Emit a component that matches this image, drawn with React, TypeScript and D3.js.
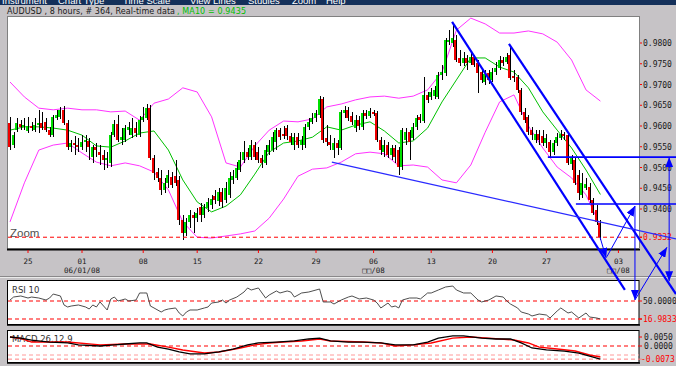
import * as d3 from "d3";

// 8-hour AUDUSD candles, one entry per bar
const opens = [
  0.9607, 0.9554, 0.959, 0.9605, 0.9598, 0.9588, 0.96, 0.959, 0.9602, 0.9607,
  0.961, 0.959, 0.9578, 0.9619, 0.9622, 0.9639, 0.9607, 0.9549, 0.9559, 0.9554,
  0.9549, 0.9561, 0.9564, 0.9525, 0.9549, 0.9537, 0.953, 0.9518, 0.9511, 0.9578,
  0.9605, 0.9566, 0.9566, 0.959, 0.9578, 0.9595, 0.9578, 0.9614, 0.9619, 0.9643,
  0.9523, 0.9489, 0.9475, 0.9446, 0.9463, 0.9477, 0.9479, 0.947, 0.9373, 0.9342,
  0.9369, 0.9385, 0.9378, 0.9405, 0.9385, 0.9402, 0.941, 0.9431, 0.9419, 0.9441,
  0.9422, 0.9434, 0.947, 0.9475, 0.9494, 0.9518, 0.9537, 0.9525, 0.9554, 0.9537,
  0.9523, 0.9511, 0.9537, 0.9542, 0.9561, 0.959, 0.9581, 0.9595, 0.9576, 0.9554,
  0.9573, 0.9554, 0.9554, 0.9598, 0.961, 0.9619, 0.9626, 0.9665, 0.9571, 0.9561,
  0.9542, 0.9559, 0.9547, 0.9631, 0.9639, 0.9624, 0.9595, 0.9614, 0.9598, 0.9631,
  0.9624, 0.9634, 0.9631, 0.9566, 0.9537, 0.9554, 0.953, 0.9547, 0.9542, 0.9501,
  0.9566, 0.9585, 0.9571, 0.9598, 0.9622, 0.9612, 0.9675, 0.967, 0.9672, 0.967,
  0.9723, 0.9728, 0.9802, 0.98, 0.9807, 0.9764, 0.9752, 0.9764, 0.9752, 0.9766,
  0.9752, 0.973, 0.9706, 0.9728, 0.9711, 0.973, 0.974, 0.9759, 0.9754, 0.9771,
  0.972, 0.9718, 0.9687, 0.9634, 0.9622, 0.959, 0.9566, 0.9581, 0.9576, 0.9559,
  0.9561, 0.9537, 0.9559, 0.9571, 0.9581, 0.9578, 0.9508, 0.9518, 0.9482, 0.9434,
  0.9451, 0.9453, 0.9422, 0.9398, 0.9366,
];
const highs = [
  0.9622, 0.9585, 0.9619, 0.9614, 0.9619, 0.9622, 0.961, 0.9619, 0.9639, 0.9634,
  0.9619, 0.9598, 0.9626, 0.9639, 0.9646, 0.9648, 0.9614, 0.9566, 0.9576, 0.9571,
  0.9578, 0.9578, 0.9571, 0.9554, 0.9559, 0.9554, 0.9542, 0.9537, 0.9585, 0.9614,
  0.9626, 0.9595, 0.9602, 0.961, 0.9619, 0.961, 0.9624, 0.9646, 0.9653, 0.9651,
  0.953, 0.9499, 0.9494, 0.9475, 0.9494, 0.9489, 0.9518, 0.9479, 0.9385, 0.9378,
  0.9398, 0.9393, 0.9402, 0.9414, 0.9412, 0.9426, 0.9434, 0.9446, 0.9451, 0.9451,
  0.9465, 0.9489, 0.9494, 0.9513, 0.9537, 0.9564, 0.9547, 0.9566, 0.9561, 0.9549,
  0.953, 0.9554, 0.9566, 0.9585, 0.9595, 0.9595, 0.96, 0.9602, 0.9583, 0.9583,
  0.9583, 0.9576, 0.9605, 0.9619, 0.9631, 0.9639, 0.9672, 0.967, 0.9602, 0.9578,
  0.9571, 0.9566, 0.9639, 0.9648, 0.9646, 0.9634, 0.9626, 0.9624, 0.9639, 0.9639,
  0.9643, 0.9639, 0.9636, 0.9573, 0.9566, 0.9561, 0.9554, 0.9554, 0.9549, 0.9595,
  0.9595, 0.959, 0.9607, 0.9626, 0.9629, 0.9718, 0.9682, 0.9692, 0.9696, 0.973,
  0.9747, 0.9812, 0.9831, 0.9843, 0.9819, 0.9783, 0.9778, 0.9771, 0.9778, 0.9771,
  0.9759, 0.9735, 0.9735, 0.9735, 0.974, 0.9754, 0.9769, 0.9766, 0.9776, 0.9793,
  0.9735, 0.9723, 0.9692, 0.9643, 0.9626, 0.9598, 0.959, 0.959, 0.959, 0.9581,
  0.9566, 0.9566, 0.9583, 0.959, 0.9585, 0.9585, 0.953, 0.9523, 0.9494, 0.9487,
  0.9475, 0.9463, 0.9426, 0.941, 0.9373,
];
const lows = [
  0.9542, 0.9547, 0.9585, 0.959, 0.959, 0.9583, 0.9588, 0.9585, 0.9583, 0.959,
  0.9585, 0.9573, 0.9573, 0.9614, 0.9617, 0.9602, 0.9542, 0.9537, 0.953, 0.9537,
  0.9542, 0.9537, 0.9518, 0.9511, 0.9525, 0.9506, 0.9494, 0.9499, 0.9501, 0.9573,
  0.9561, 0.9554, 0.9561, 0.9578, 0.9571, 0.9573, 0.9573, 0.961, 0.9614, 0.9518,
  0.947, 0.9465, 0.9434, 0.9439, 0.9451, 0.9451, 0.9455, 0.9361, 0.9325, 0.9335,
  0.9354, 0.9342, 0.9369, 0.9369, 0.9378, 0.9393, 0.94, 0.9412, 0.9407, 0.9402,
  0.9414, 0.9426, 0.946, 0.947, 0.9489, 0.9511, 0.9518, 0.9518, 0.9518, 0.9511,
  0.9499, 0.9506, 0.953, 0.9537, 0.9542, 0.9566, 0.9569, 0.9566, 0.9554, 0.9542,
  0.9547, 0.9542, 0.9547, 0.959, 0.9605, 0.961, 0.9619, 0.9559, 0.9552, 0.9542,
  0.9523, 0.953, 0.9542, 0.9619, 0.9612, 0.9602, 0.9585, 0.959, 0.959, 0.9617,
  0.9619, 0.9624, 0.9561, 0.953, 0.9525, 0.9523, 0.9518, 0.9511, 0.9482, 0.9494,
  0.9554, 0.9518, 0.9566, 0.959, 0.9607, 0.9607, 0.9655, 0.9663, 0.9665, 0.9665,
  0.9711, 0.972, 0.9795, 0.979, 0.9754, 0.9745, 0.9745, 0.9735, 0.9747, 0.9742,
  0.9679, 0.9704, 0.9699, 0.9701, 0.9706, 0.9723, 0.9735, 0.9745, 0.9749, 0.9711,
  0.9706, 0.9679, 0.9626, 0.9607, 0.9578, 0.9566, 0.9559, 0.9554, 0.9552, 0.9547,
  0.9525, 0.953, 0.9552, 0.9566, 0.9566, 0.9506, 0.9494, 0.9458, 0.9422, 0.9426,
  0.9446, 0.9414, 0.9385, 0.9361, 0.9325,
];
const closes = [
  0.9549, 0.9578, 0.9607, 0.9598, 0.9602, 0.96, 0.9595, 0.9602, 0.9607, 0.9595,
  0.959, 0.9578, 0.9622, 0.9626, 0.9639, 0.9607, 0.9549, 0.9559, 0.9554, 0.9549,
  0.9561, 0.9566, 0.9549, 0.9549, 0.9542, 0.953, 0.9518, 0.9523, 0.9578, 0.9605,
  0.9566, 0.9573, 0.9595, 0.9598, 0.9595, 0.9583, 0.9614, 0.9622, 0.9643, 0.9523,
  0.9487, 0.9475, 0.9446, 0.9463, 0.9482, 0.9458, 0.9463, 0.9373, 0.9342, 0.9369,
  0.9385, 0.9378, 0.939, 0.9385, 0.9405, 0.9417, 0.9424, 0.9422, 0.9441, 0.9417,
  0.9451, 0.9475, 0.9479, 0.9499, 0.9518, 0.9537, 0.9525, 0.9554, 0.9525, 0.9518,
  0.9511, 0.9542, 0.9554, 0.9573, 0.959, 0.9573, 0.9576, 0.9576, 0.9561, 0.9573,
  0.9554, 0.9566, 0.9598, 0.961, 0.9619, 0.9631, 0.9665, 0.9566, 0.9561, 0.9554,
  0.9559, 0.9547, 0.9634, 0.9639, 0.9619, 0.961, 0.9614, 0.96, 0.9631, 0.9624,
  0.9636, 0.9629, 0.9566, 0.9542, 0.9554, 0.953, 0.9547, 0.9525, 0.9501, 0.959,
  0.9585, 0.9561, 0.9598, 0.9619, 0.9614, 0.9675, 0.9663, 0.9682, 0.9687, 0.9723,
  0.973, 0.9807, 0.9807, 0.9812, 0.9759, 0.9752, 0.9764, 0.9752, 0.9766, 0.9747,
  0.9728, 0.9711, 0.9725, 0.9711, 0.973, 0.974, 0.9759, 0.9752, 0.9766, 0.9716,
  0.9716, 0.9687, 0.9634, 0.9614, 0.9585, 0.9578, 0.9581, 0.9566, 0.9559, 0.9571,
  0.9537, 0.9559, 0.9573, 0.9581, 0.9576, 0.9511, 0.9523, 0.9463, 0.9439, 0.9463,
  0.946, 0.9422, 0.939, 0.9369, 0.9332,
];

// Bollinger bands and MA10, read every 4th bar
const bandIdx = [
  0, 4, 8, 12, 16, 20, 24, 28, 32, 36, 40, 44, 48, 52, 56, 60, 64, 68, 72, 76, 80,
  84, 88, 92, 96, 100, 104, 108, 112, 116, 120, 124, 128, 132, 136, 140, 144, 148,
  152, 156, 160, 164,
];
const upperBand = [
  0.9706, 0.967, 0.9643, 0.9639, 0.9643, 0.9639, 0.9639, 0.9634, 0.9636, 0.9614,
  0.9655, 0.9665, 0.9692, 0.9682, 0.9622, 0.9511, 0.9501, 0.9552, 0.959, 0.9612,
  0.961, 0.9617, 0.9646, 0.9653, 0.9663, 0.967, 0.9672, 0.9667, 0.9672, 0.9687,
  0.973, 0.9831, 0.986, 0.9846, 0.9824, 0.9824, 0.9829, 0.9822, 0.9802, 0.9759,
  0.9687, 0.966,
];
const lowerBand = [
  0.9369, 0.9463, 0.9542, 0.9554, 0.9559, 0.9535, 0.9513, 0.9504, 0.9511, 0.9504,
  0.9489, 0.9446, 0.9369, 0.9332, 0.933, 0.9335, 0.934, 0.9347, 0.9378, 0.9424,
  0.9479, 0.9496, 0.9499, 0.9513, 0.9533, 0.9537, 0.9533, 0.9504, 0.9506, 0.9501,
  0.947, 0.9463, 0.9506, 0.9585, 0.9658, 0.9675, 0.96, 0.9547, 0.9501, 0.9475,
  0.9434, 0.9359,
];
const ma10 = [
  0.959, 0.9598, 0.9598, 0.9595, 0.959, 0.9578, 0.9552, 0.9549, 0.9564, 0.9583,
  0.9588, 0.9542, 0.947, 0.9417, 0.9393, 0.9407, 0.9434, 0.9484, 0.9537, 0.9559,
  0.9564, 0.9573, 0.9598, 0.959, 0.9602, 0.961, 0.9588, 0.9559, 0.9564, 0.9595,
  0.9658, 0.9711, 0.9764, 0.9764, 0.9742, 0.973, 0.9692, 0.9634, 0.959, 0.9547,
  0.9494, 0.9435,
];

// RSI 10
const rsiIdx = [
  0, 1, 3, 5, 6, 8, 10, 11, 12, 14, 15, 16, 17, 19, 21, 22, 23, 24, 25, 26, 27, 28,
  29, 30, 31, 32, 33, 35, 36, 37, 38, 39, 40, 42, 43, 44, 46, 47, 48, 49, 50, 52,
  54, 55, 56, 58, 59, 60, 61, 63, 65, 66, 67, 69, 71, 72, 74, 75, 77, 78, 79, 80,
  81, 83, 86, 87, 89, 90, 92, 94, 95, 97, 99, 101, 102, 103, 105, 106, 107, 108,
  109, 111, 113, 114, 116, 117, 119, 121, 123, 124, 126, 128, 130, 131, 133, 135,
  137, 138, 139, 141, 142, 144, 145, 147, 149, 150, 152, 153, 155, 156, 158, 160,
  161, 163, 164,
];
const rsiVals = [
  51.8, 57.3, 59.2, 55.5, 57.3, 55.5, 51.8, 55.5, 62.8, 59.2, 42.7, 39.0, 40.8,
  42.7, 39.0, 35.3, 42.7, 39.0, 48.2, 40.8, 33.5, 53.7, 57.3, 50.0, 51.8, 53.7,
  50.0, 51.8, 64.7, 64.7, 64.7, 40.8, 37.2, 29.8, 33.5, 35.3, 37.2, 28.0, 22.5,
  29.8, 33.5, 33.5, 37.2, 39.0, 46.3, 48.2, 51.8, 46.3, 51.8, 57.3, 66.5, 73.9,
  70.2, 73.9, 55.5, 61.0, 68.4, 64.7, 68.4, 66.5, 57.3, 61.0, 64.7, 66.5, 72.0,
  48.2, 48.2, 44.5, 51.8, 57.3, 59.2, 53.7, 55.5, 51.8, 46.3, 37.2, 46.3, 39.0,
  40.8, 37.2, 51.8, 55.5, 55.5, 53.7, 64.7, 64.7, 70.2, 75.7, 77.5, 70.2, 64.7,
  64.7, 51.8, 48.2, 51.8, 59.2, 57.3, 50.0, 44.5, 37.2, 29.8, 26.1, 22.5, 26.1,
  24.3, 18.8, 31.7, 37.2, 28.0, 29.8, 18.8, 28.0, 20.6, 18.8, 16.98,
];

// MACD 26,12,9
const macdIdx = [
  0, 3, 6, 11, 16, 19, 25, 29, 32, 36, 38, 41, 44, 47, 50, 54, 58, 62, 66, 69, 74,
  79, 83, 86, 89, 94, 98, 103, 107, 112, 116, 119, 123, 126, 131, 135, 139, 142,
  145, 149, 154, 158, 163, 164,
];
const macdVals = [
  0.005, 0.0044, 0.0033, 0.0022, 0.0017, 0.0006, 0.0, 0.0006, 0.0011, 0.0017,
  0.0017, -0.0006, -0.0017, -0.0033, -0.0044, -0.0044, -0.0033, -0.0017, 0.0006,
  0.0017, 0.0022, 0.0028, 0.0039, 0.0044, 0.0028, 0.0022, 0.0022, 0.0017, 0.0006,
  0.0006, 0.0022, 0.0044, 0.0056, 0.0056, 0.0044, 0.0039, 0.0039, 0.0017, -0.0011,
  -0.0022, -0.0028, -0.0039, -0.0067, -0.0073,
];
const signalIdx = [
  0, 3, 6, 16, 25, 32, 39, 44, 48, 54, 58, 64, 68, 72, 76, 81, 86, 89, 98, 103,
  107, 112, 117, 123, 128, 133, 140, 144, 147, 152, 157, 161, 164,
];
const signalVals = [
  0.005, 0.0042, 0.0022, 0.0022, 0.0006, 0.0011, 0.0011, -0.0006, -0.0022, -0.0039,
  -0.0033, -0.0011, 0.0006, 0.0017, 0.0022, 0.0028, 0.0039, 0.0028, 0.0022,
  0.0017, 0.0, 0.0006, 0.0017, 0.0044, 0.005, 0.0044, 0.0033, 0.0017, -0.0006,
  -0.0017, -0.0028, -0.005, -0.0061,
];

// time axis
const tickIdx = [5, 20, 37, 52, 69, 85, 101, 117, 134, 149, 169];
const tickLabels = ["25", "01", "08", "15", "22", "29", "06", "13", "20", "27", "03"];
const monthIdx = [20, 101, 169];
const monthLabels = ["06/01/08", "\u25A1\u25A1/08", "\u25A1\u25A1/08"];

const priceTicks = [0.98, 0.975, 0.97, 0.965, 0.96, 0.955, 0.95, 0.945, 0.94];
const lastPrice = 0.9332;
const lastRsi = 16.9833;
const lastMacd = -0.0073;

// hand-drawn study lines, as [bar, price] anchors
const channels: [number, number][][] = [
  [[122.8, 0.9851], [170.8, 0.9205]],
  [[138.6, 0.9798], [185, 0.9195]],
];
const supportLine: [number, number][] = [[89.4, 0.9513], [185, 0.9328]];
const levels: [number, number][] = [[149.4, 0.9525], [157.2, 0.9412]];
const arrows: [number, number][][] = [
  [[163.9, 0.9332], [165.6, 0.9282]],
  [[165.8, 0.9285], [173.6, 0.9407]],
  [[173.6, 0.9407], [173.6, 0.9181]],
  [[173.6, 0.9181], [182.5, 0.9308]],
  [[183.1, 0.9308], [183.1, 0.9525]],
  [[183.1, 0.9308], [183.1, 0.9226]],
];

const menu: [string, number][] = [
  ["Instrument", 2], ["Chart Type", 58], ["Time Scale", 123], ["View", 190],
  ["Lines", 213], ["Studies", 248], ["Zoom", 292], ["Help", 326],
];

const GREY = "#c6c3c6";
const BLUE = "#0000ff";
const MONO = "DejaVu Sans Mono";
const P = { l: 8, r: 639, t: 17, b: 249 };

export default function App() {
  const x = d3.scaleLinear().domain([0, 164]).range([10, 600.4]);
  const y = d3.scaleLinear().domain([0.98, 0.94]).range([43, 209]);
  const yRsi = d3.scaleLinear().domain([50, 16.9833]).range([301, 319]);
  const yMacd = d3.scaleLinear().domain([0, 0.005]).range([346, 337]);

  const band = (vals: number[]) =>
    d3.line<number>().x((_, k) => x(bandIdx[k])).y((d) => y(d))(vals) ?? "";
  const rsiPath =
    d3.line<number>().x((_, k) => x(rsiIdx[k])).y((d) => yRsi(d))(rsiVals) ?? "";
  const macdPath =
    d3.line<number>().x((_, k) => x(macdIdx[k])).y((d) => yMacd(d))(macdVals) ?? "";
  const signalPath =
    d3.line<number>().x((_, k) => x(signalIdx[k])).y((d) => yMacd(d))(signalVals) ?? "";
  const seg = (s: [number, number][]) =>
    d3.line<[number, number]>().x((d) => x(d[0])).y((d) => y(d[1]))(s) ?? "";

  const dash = "4,3";

  return (
    <svg
      width={676}
      height={366}
      style={{ position: "absolute", left: 0, top: 0, display: "block" }}
      fontFamily="DejaVu Sans"
    >
      <defs>
        <clipPath id="cMain">
          <rect x={P.l} y={P.t} width={P.r - P.l} height={P.b - P.t} />
        </clipPath>
        <clipPath id="cMenu">
          <rect x={0} y={0} width={676} height={5} />
        </clipPath>
        <marker
          id="arr"
          viewBox="0 0 10 8"
          refX={10}
          refY={4}
          markerWidth={10}
          markerHeight={8}
          markerUnits="userSpaceOnUse"
          orient="auto"
        >
          <path d="M0,0 L10,4 L0,8 z" fill={BLUE} />
        </marker>
      </defs>

      <rect width={676} height={366} fill={GREY} />

      {/* menu bar */}
      <rect x={0} y={0} width={676} height={5} fill="#14305a" />
      <g clipPath="url(#cMenu)" fontFamily="Liberation Sans" fontSize={9.5} fill="#fff">
        {menu.map(([m, mx]) => (
          <text key={m} x={mx} y={3.5}>{m}</text>
        ))}
      </g>

      {/* title */}
      <text x={7} y={14} fontSize={8} fill="#1a1a1a" textLength={168} lengthAdjust="spacing">
        AUDUSD , 8 hours, # 364, Real-time data
      </text>
      <text x={177} y={14} fontSize={8} fill="#00c000" textLength={69} lengthAdjust="spacing">
        , MA10 = 0.9435
      </text>

      {/* main price panel */}
      <rect x={P.l - 0.5} y={P.t - 0.5} width={P.r - P.l + 1} height={P.b - P.t + 0.5} fill="#fff" stroke="#808080" />
      <line x1={P.l - 1} x2={P.r + 1} y1={P.b + 0.5} y2={P.b + 0.5} stroke="#000" strokeWidth={2} />

      <g clipPath="url(#cMain)">
        <path d={band(upperBand)} fill="none" stroke="#ff33ff" strokeWidth={1} />
        <path d={band(lowerBand)} fill="none" stroke="#ff33ff" strokeWidth={1} />
        <path d={band(ma10)} fill="none" stroke="#00c000" strokeWidth={1} />
        {closes.map((c, i) => {
          const cx = Math.round(x(i));
          const o = opens[i];
          const top = y(Math.max(o, c));
          const h = Math.max(1, Math.abs(y(o) - y(c)));
          return (
            <g key={i} shapeRendering="crispEdges">
              <rect x={cx - 2} y={top} width={2} height={h} fill={c >= o ? "#00e000" : "#ee0000"} />
              <line x1={cx + 0.5} x2={cx + 0.5} y1={y(highs[i])} y2={y(lows[i])} stroke="#000" />
            </g>
          );
        })}
        <text x={10} y={237} fontFamily="Liberation Sans" fontSize={11.5} fill="#505050">Zoom</text>
      </g>
      <line x1={P.l} x2={642} y1={y(lastPrice)} y2={y(lastPrice)} stroke="#ff0000" strokeDasharray={dash} />

      {/* price axis */}
      <g fontFamily={MONO} fontSize={8} fill="#1a1a1a">
        {priceTicks.map((t) => (
          <g key={t}>
            <line x1={639} x2={642} y1={y(t)} y2={y(t)} stroke="#ff0000" />
            <text x={643} y={y(t) + 3}>{t.toFixed(4)}</text>
          </g>
        ))}
        <line x1={639} x2={642} y1={y(lastPrice)} y2={y(lastPrice)} stroke="#ff0000" />
        <text x={643} y={y(lastPrice) + 3} fill="#ff0000">{lastPrice.toFixed(4)}</text>
      </g>
      <line x1={639.5} x2={639.5} y1={P.t} y2={P.b} stroke="#808080" />

      {/* time axis */}
      <g fontFamily={MONO} fontSize={7.5} fill="#1a1a1a" textAnchor="middle">
        {tickIdx.map((t, k) => (
          <g key={t}>
            <line x1={x(t)} x2={x(t)} y1={250} y2={253} stroke="#ff0000" />
            <text x={x(t)} y={264}>{tickLabels[k]}</text>
          </g>
        ))}
        {monthIdx.map((t, k) => (
          <text key={t} x={x(t)} y={273}>{monthLabels[k]}</text>
        ))}
      </g>
      <line x1={0} x2={676} y1={276.5} y2={276.5} stroke="#8a888a" />
      <line x1={0} x2={676} y1={277.5} y2={277.5} stroke="#ebebeb" />

      {/* RSI panel */}
      <rect x={7.5} y={280.5} width={631.5} height={44} fill="#fff" stroke="#000" />
      <line x1={7} x2={640} y1={325} y2={325} stroke="#000" strokeWidth={1.5} />
      <line x1={8} x2={642} y1={yRsi(50)} y2={yRsi(50)} stroke="#ff0000" strokeDasharray={dash} strokeWidth={1.2} />
      <line x1={8} x2={642} y1={yRsi(lastRsi)} y2={yRsi(lastRsi)} stroke="#ff0000" strokeDasharray={dash} strokeWidth={1.2} />
      <path d={rsiPath} fill="none" stroke="#3a3a3a" strokeWidth={0.9} />
      <text x={12} y={293} fontSize={8.5} fill="#333">RSI 10</text>
      <g fontFamily={MONO} fontSize={8}>
        <text x={643} y={yRsi(50) + 3} fill="#1a1a1a">50.0000</text>
        <line x1={639} x2={642} y1={yRsi(lastRsi)} y2={yRsi(lastRsi)} stroke="#ff0000" />
        <text x={643} y={yRsi(lastRsi) + 3} fill="#ff0000">{lastRsi.toFixed(4)}</text>
      </g>

      {/* MACD panel */}
      <rect x={7.5} y={330.5} width={631.5} height={32} fill="#fff" stroke="#000" />
      <line x1={7} x2={640} y1={363} y2={363} stroke="#000" strokeWidth={1.5} />
      <text x={12} y={342} fontSize={8.5} fill="#333">MACD 26,12,9</text>
      <line x1={8} x2={642} y1={yMacd(0)} y2={yMacd(0)} stroke="#ff0000" strokeDasharray={dash} strokeWidth={1.2} />
      <line x1={8} x2={639} y1={yMacd(-0.005)} y2={yMacd(-0.005)} stroke="#ff9a9a" strokeDasharray={dash} />
      <line x1={8} x2={642} y1={yMacd(lastMacd)} y2={yMacd(lastMacd)} stroke="#ff8080" strokeDasharray={dash} />
      <path d={signalPath} fill="none" stroke="#ff0000" strokeWidth={1.4} />
      <path d={macdPath} fill="none" stroke="#000" strokeWidth={1.3} />
      <g fontFamily={MONO} fontSize={8}>
        <line x1={639} x2={642} y1={yMacd(0.005)} y2={yMacd(0.005)} stroke="#ff0000" />
        <text x={644} y={yMacd(0.005) + 3} fill="#1a1a1a">0.0050</text>
        <text x={644} y={yMacd(0) + 3} fill="#1a1a1a">0.0000</text>
        <text x={641} y={yMacd(lastMacd) + 3} fill="#ff0000">{lastMacd.toFixed(4)}</text>
      </g>

      {/* drawn study lines */}
      {channels.map((c, k) => (
        <path key={k} d={seg(c)} stroke={BLUE} strokeWidth={2.2} fill="none" />
      ))}
      <path d={seg(supportLine)} stroke="#2a2aff" strokeWidth={1.2} fill="none" />
      {levels.map(([from, p]) => (
        <path key={p} d={seg([[from, p], [185, p]])} stroke={BLUE} strokeWidth={1.6} fill="none" />
      ))}
      {arrows.map((a, k) => (
        <path key={k} d={seg(a)} stroke={BLUE} strokeWidth={1} fill="none" markerEnd="url(#arr)" />
      ))}
    </svg>
  );
}
